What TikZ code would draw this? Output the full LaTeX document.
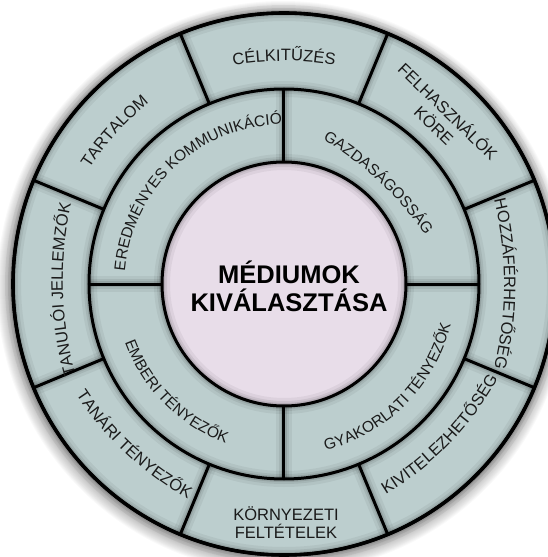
\documentclass[tikz,border=0pt]{standalone}
\usepackage{fontspec}
\setmainfont{Liberation Sans}
\usetikzlibrary{decorations.text}

% text on an arc: font, angle, baseline radius, curve radius, text
\newcommand{\cwtext}[5]{%
  \path[decorate, decoration={text along path, text align=center, text={|#1|#5}}]
    (#2:#3-#4) ++(#2+70:#4) arc[start angle=#2+70, end angle=#2-70, radius=#4];}
\newcommand{\ccwtext}[5]{%
  \path[decorate, decoration={text along path, text align=center, text={|#1|#5}}]
    (#2:#3-#4) ++(#2-70:#4) arc[start angle=#2-70, end angle=#2+70, radius=#4];}

\begin{document}
\begin{tikzpicture}[x=1pt,y=1pt,
    ringlabel/.style={font=\fontsize{16.5}{20}\selectfont, text=textColour, inner sep=0pt, align=center}]
    \definecolor{ringColour}{HTML}{BCCECE}
    \definecolor{centreColour}{HTML}{E8DDE9}
    \definecolor{textColour}{HTML}{1A1A1A}

    \def\rOut{271}
    \def\rMid{195}
    \def\rIn{122}
    \def\outerFont{\color{textColour}\fontsize{16.5}{20}\selectfont}
    \def\innerFont{\color{textColour}\fontsize{15.5}{18}\selectfont}

    \useasboundingbox (-284,-273) rectangle (263,284);

    % Drop shadow
    \foreach \k in {1,...,15}
        \fill[black, opacity=0.022] (-1,-3) circle (\rOut+\k);

    % Rings and centre
    \fill[ringColour] (0,0) circle (\rOut);
    \fill[centreColour] (0,0) circle (\rIn);

    % Borders, soft shade first
    \foreach \w/\o in {16/0.05, 10/0.07, 6/0.1, 3/1} {
        \begin{scope}[line width=\w pt, draw=black, draw opacity=\o]
            \draw (0,0) circle (\rOut);
            \draw (0,0) circle (\rMid);
            \draw (0,0) circle (\rIn);
            \foreach \a in {0,90,180,270}
                \draw (\a:\rIn) -- (\a:\rMid);
            \foreach \a in {22.5,67.5,...,337.5}
                \draw (\a:\rMid) -- (\a:\rOut);
        \end{scope}
    }
    \draw[line width=3.6pt] (0,0) circle (\rOut);

    % Centre title
    \node[font=\bfseries\fontsize{25.5}{28}\selectfont, align=center] (title) at (5,-2) {MÉDIUMOK\\KIVÁLASZTÁSA};

    % Middle ring
    \cwtext{\innerFont}{133}{159.5}{159.5}{EREDMÉNYES KOMMUNIKÁCIÓ}
    \cwtext{\innerFont}{47}{139.5}{330}{GAZDASÁGOSSÁG}
    \ccwtext{\innerFont}{225}{169.5}{169.5}{EMBERI TÉNYEZŐK}
    \ccwtext{\innerFont}{-44.75}{171.5}{171.5}{GYAKORLATI TÉNYEZŐK}

    % Outer ring
    \cwtext{\outerFont}{90}{223}{300}{CÉLKITŰZÉS}
    \cwtext{\outerFont}{138}{225}{300}{TARTALOM}
    \cwtext{\outerFont}{181.5}{221}{360}{TANULÓI JELLEMZŐK}
    \cwtext{\outerFont}{0}{220}{360}{HOZZÁFÉRHETŐSÉG}
    \ccwtext{\outerFont}{-44}{230}{320}{KIVITELEZHETŐSÉG}
    \ccwtext{\outerFont}{-133}{232}{320}{TANÁRI TÉNYEZŐK}
    \node[ringlabel, rotate=-44] (felhasznalok) at (46.5:229) {FELHASZNÁLÓK\\KÖRE};
    \node[ringlabel, font=\fontsize{16.5}{18}\selectfont] (kornyezeti) at (2,-239) {KÖRNYEZETI\\FELTÉTELEK};

\end{tikzpicture}
\end{document}
